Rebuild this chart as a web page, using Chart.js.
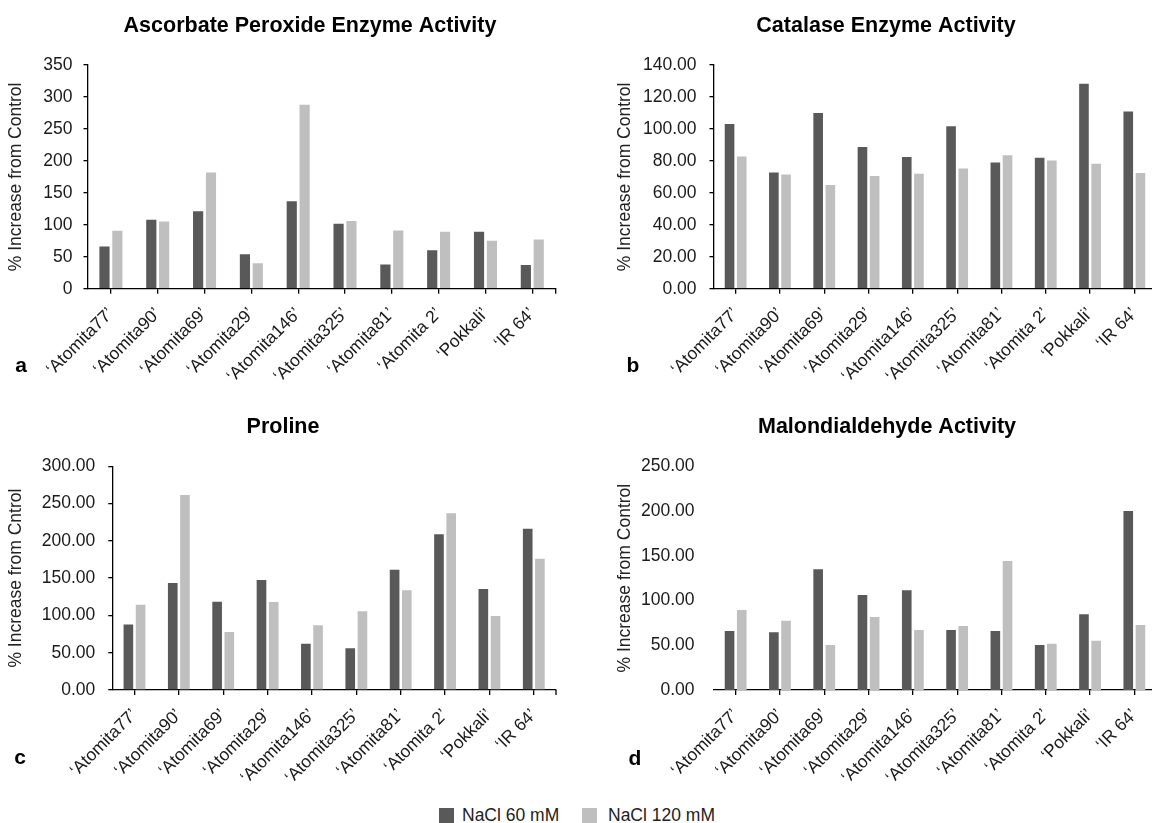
<!DOCTYPE html>
<html>
<head>
<meta charset="utf-8">
<script src="https://cdn.jsdelivr.net/npm/chart.js@4.4.1/dist/chart.umd.min.js"></script>
<style>
  html, body { margin: 0; padding: 0; background: #fff; overflow: hidden; }
  body { width: 1152px; height: 823px; position: relative; font-family: "Liberation Sans", Arial, sans-serif; }
  canvas { position: absolute; }
  .legenda { position: absolute; top: 806px; font-size: 17.5px; color: #222; line-height: 19px; white-space: nowrap; }
  .caixa { position: absolute; top: 808px; width: 15px; height: 15px; }
</style>
</head>
<body>
<canvas id="grafA" width="580" height="400" style="left:0px;top:0px"></canvas>
<canvas id="grafB" width="570" height="400" style="left:600px;top:0px"></canvas>
<canvas id="grafC" width="580" height="400" style="left:0px;top:400px"></canvas>
<canvas id="grafD" width="570" height="400" style="left:600px;top:400px"></canvas>

<div class="caixa" style="left:439px;background:#595959"></div>
<div class="legenda" style="left:462px">NaCl 60 mM</div>
<div class="caixa" style="left:582px;background:#BFBFBF"></div>
<div class="legenda" style="left:608px">NaCl 120 mM</div>

<script>
const variedades = ["‘Atomita77’", "‘Atomita90’", "‘Atomita69’", "‘Atomita29’", "‘Atomita146’",
  "‘Atomita325’", "‘Atomita81’", "‘Atomita 2’", "‘Pokkali’", "‘IR 64’"]

const apx60 = [66, 108, 121, 54, 137, 101.5, 38, 60, 89, 37]
const apx120 = [90.5, 105, 182, 40, 288, 106, 91, 89, 75, 77]
const cat60 = [103.1, 72.8, 110, 88.7, 82.4, 101.7, 79, 82, 128.2, 110.9]
const cat120 = [82.8, 71.5, 64.9, 70.5, 72, 75.3, 83.5, 80.3, 78.2, 72.4]
const pro60 = [88, 143.5, 118.5, 147.5, 62, 56, 161.4, 208.8, 135.4, 216.4]
const pro120 = [114.4, 261.5, 77.8, 118, 86.7, 105.5, 133.7, 237, 99.2, 176]
const mda60 = [66, 64.5, 134.9, 106.2, 111.4, 67, 66, 50.3, 84.6, 200]
const mda120 = [89.4, 77.5, 50.3, 81.6, 67, 71.5, 144.2, 51.8, 55.1, 72.7]

const corEscura = '#595959'
const corClara = '#BFBFBF'
const fonte = '"Liberation Sans", Arial, sans-serif'

// titulo, letra do painel (a, b, c, d) e tick do fim do eixo x
const textosPainel = {
    id: 'textosPainel',
    afterDraw(chart, args, opts) {
        const ctx = chart.ctx
        const area = chart.chartArea
        ctx.save()
        ctx.strokeStyle = '#000'
        ctx.lineWidth = 1.3
        ctx.beginPath()
        ctx.moveTo(area.right, area.bottom)
        ctx.lineTo(area.right, area.bottom + 5)
        ctx.stroke()
        ctx.fillStyle = '#000'
        ctx.textAlign = 'center'
        ctx.font = 'bold 21.5px ' + fonte
        ctx.textBaseline = 'middle'
        ctx.fillText(opts.titulo, opts.tituloX, opts.tituloY)
        ctx.font = 'bold 21px ' + fonte
        ctx.textBaseline = 'alphabetic'
        ctx.fillText(opts.letra, opts.letraX, opts.letraY)
        ctx.restore()
    }
}

function criaGrafico(id, p) {
    return new Chart(document.getElementById(id), {
        type: 'bar',
        data: {
            labels: variedades,
            datasets: [{
                label: 'NaCl 60 mM',
                data: p.dados60,
                backgroundColor: corEscura,
                categoryPercentage: 0.55,
                barPercentage: 0.79
            }, {
                label: 'NaCl 120 mM',
                data: p.dados120,
                backgroundColor: corClara,
                categoryPercentage: 0.55,
                barPercentage: 0.79
            }]
        },
        options: {
            responsive: false,
            animation: false,
            events: [],
            layout: { padding: { left: 0, right: p.dirPad, top: p.topo, bottom: 0 } },
            plugins: {
                legend: { display: false },
                tooltip: { enabled: false },
                title: { display: false },
                textosPainel: {
                    titulo: p.titulo, tituloX: p.tituloX, tituloY: p.tituloY,
                    letra: p.letra, letraX: p.letraX, letraY: p.letraY
                }
            },
            scales: {
                x: {
                    afterFit: (s) => { s.height = p.altX },
                    border: { color: '#000', width: 1.3 },
                    grid: { offset: false, drawOnChartArea: false, color: '#000', tickLength: 5, lineWidth: 1.3 },
                    ticks: {
                        color: '#1a1a1a',
                        font: { family: fonte, size: 17.5 },
                        minRotation: 45,
                        maxRotation: 45,
                        autoSkip: false,
                        padding: 10
                    }
                },
                y: {
                    min: 0,
                    max: p.max,
                    afterFit: (s) => { s.width = p.largY },
                    border: { display: p.eixoY, color: '#000', width: 1.3 },
                    grid: { display: p.eixoY, drawOnChartArea: false, color: '#000', tickLength: 4, lineWidth: 1.3 },
                    ticks: {
                        stepSize: p.passo,
                        color: '#1a1a1a',
                        padding: p.tickPad,
                        font: { family: fonte, size: 17.5 },
                        callback: (v) => v.toFixed(p.casas)
                    },
                    title: {
                        display: true,
                        text: p.tituloEixo,
                        color: '#222',
                        font: { family: fonte, size: 17.5 },
                        padding: { top: p.tituloEixoPad, bottom: 0 }
                    }
                }
            }
        },
        plugins: [textosPainel]
    })
}

criaGrafico('grafA', {
    titulo: 'Ascorbate Peroxide Enzyme Activity', tituloEixo: '% Increase from Control',
    dados60: apx60, dados120: apx120, max: 350, passo: 50, casas: 0, eixoY: true,
    largY: 87.5, dirPad: 24.3, altX: 111.3, topo: 65, tituloX: 310, tituloY: 26,
    tituloEixoPad: 6, tickPad: 11, letra: 'a', letraX: 21, letraY: 372
})

criaGrafico('grafB', {
    titulo: 'Catalase Enzyme Activity', tituloEixo: '% Increase from Control',
    dados60: cat60, dados120: cat120, max: 140, passo: 20, casas: 2, eixoY: true,
    largY: 113.5, dirPad: 13.5, altX: 111.3, topo: 65, tituloX: 286, tituloY: 26,
    tituloEixoPad: 15, tickPad: 13, letra: 'b', letraX: 33, letraY: 372
})

criaGrafico('grafC', {
    titulo: 'Proline', tituloEixo: '% Increase from Cntrol',
    dados60: pro60, dados120: pro120, max: 300, passo: 50, casas: 2, eixoY: true,
    largY: 112.3, dirPad: 24, altX: 110, topo: 66.3, tituloX: 283, tituloY: 27,
    tituloEixoPad: 6, tickPad: 13, letra: 'c', letraX: 20, letraY: 364
})

criaGrafico('grafD', {
    titulo: 'Malondialdehyde Activity', tituloEixo: '% Increase from Control',
    dados60: mda60, dados120: mda120, max: 250, passo: 50, casas: 2, eixoY: false,
    largY: 113.5, dirPad: 13.5, altX: 110, topo: 66.3, tituloX: 287, tituloY: 27,
    tituloEixoPad: 15, tickPad: 15, letra: 'd', letraX: 35, letraY: 365
})
</script>
</body>
</html>
